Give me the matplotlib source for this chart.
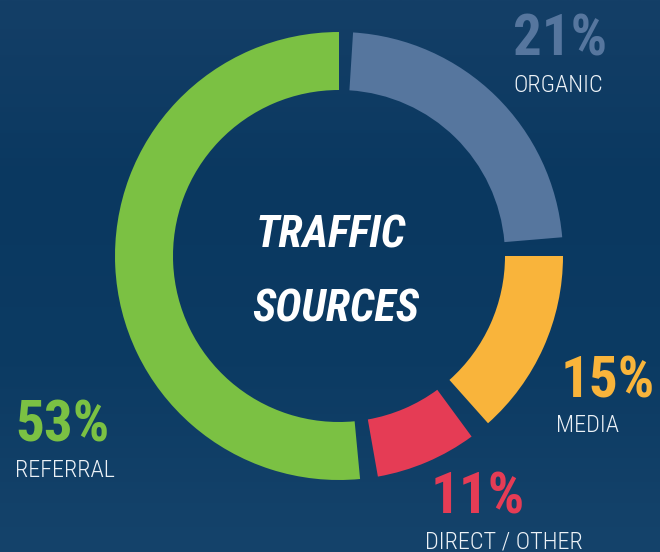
import numpy as np
import matplotlib
matplotlib.use("Agg")
import matplotlib.pyplot as plt
from matplotlib.colors import LinearSegmentedColormap

# ==========================
# DATA
# ==========================

labels = ["ORGANIC", "MEDIA", "DIRECT / OTHER", "REFERRAL"]
percents = [21, 15, 11, 53]
# arc sizes in degrees as drawn in the picture (clockwise from 12 o'clock)
arc_deg = [81.6, 48.3, 26.3, 185.4]
gap_deg = [3.6, 4.8, 5.4, 4.6]
colors = ["#56769e", "#f9b43b", "#e53c55", "#7bc143"]

W, H = 660, 552
BG = "#0d3c64"

fig = plt.figure(figsize=(W / 100, H / 100), dpi=100)
ax = fig.add_axes([0, 0, 1, 1])

# ==========================
# BACKGROUND
# ==========================

bg_cmap = LinearSegmentedColormap.from_list(
    "bg", ["#143f67", "#0a3860", "#0c3b63", "#15436b"]
)
grad = np.linspace(0, 1, 200).reshape(-1, 1)
ax.imshow(grad, cmap=bg_cmap, extent=[0, W, 0, H], aspect="auto",
          origin="upper", zorder=0)

# ==========================
# DONUT
# ==========================

values = []
wedge_colors = []
for g, a, c in zip(gap_deg, arc_deg, colors):
    values += [g, a]
    wedge_colors += ["none", c]

ax.pie(
    values,
    colors=wedge_colors,
    startangle=90,
    counterclock=False,
    radius=224,
    center=(339, H - 256),
    wedgeprops=dict(width=58, linewidth=0),
    frame=True,
)

# ==========================
# TEXT
# ==========================

num_font = ["Roboto Condensed", "Liberation Sans Narrow", "DejaVu Sans"]
lab_font = ["Roboto Condensed", "Liberation Sans Narrow", "DejaVu Sans"]

# (x of percent, baseline of percent, baseline of label, x of label)
pos = [
    (513, 55, 92, 513),
    (561, 397, 432, 556),
    (431, 513, 548, 425),
    (15, 442, 477, 15),
]

for (x, yp, yl, xl), p, lab, c in zip(pos, percents, labels, colors):
    ax.text(x, H - yp, f"{p}%", color=c, fontsize=41, fontweight="bold",
            family=num_font, ha="left", va="baseline", zorder=5)
    ax.text(xl, H - yl, lab, color="#edf2f7", fontsize=17.5,
            fontweight="light", family=lab_font, ha="left",
            va="baseline", zorder=5)

ax.text(331, H - 247, "TRAFFIC", color="white", fontsize=32,
        fontweight="bold", fontstyle="italic", family=num_font,
        ha="center", va="baseline", zorder=5)
ax.text(336, H - 322, "SOURCES", color="white", fontsize=32,
        fontweight="bold", fontstyle="italic", family=num_font,
        ha="center", va="baseline", zorder=5)

ax.set_xlim(0, W)
ax.set_ylim(0, H)
ax.set_aspect("auto")
ax.axis("off")

fig.savefig("out.png", dpi=100, facecolor=BG)
